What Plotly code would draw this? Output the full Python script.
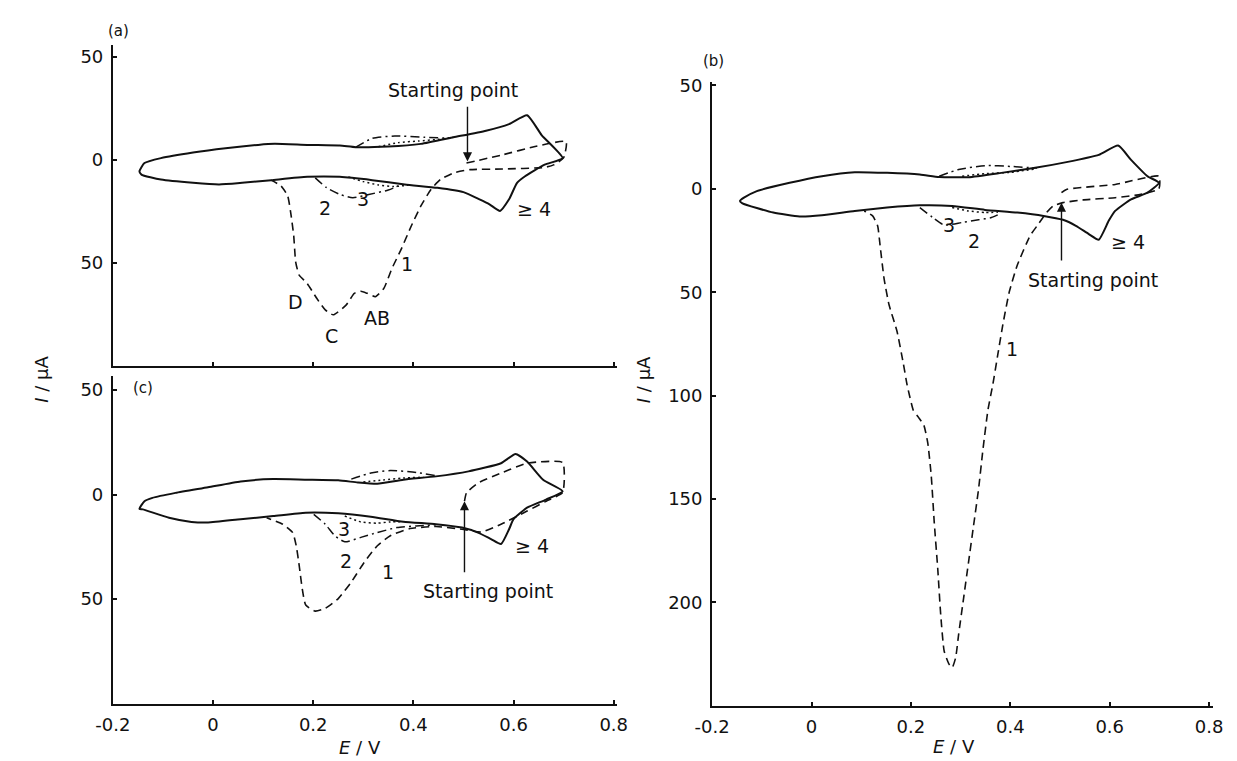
import plotly.graph_objects as go

# The page body has an 8 px default margin, so the figure is made 8 px smaller and
# every reference-pixel position is shifted by that offset.
REF_W, REF_H = 1237, 761
OFF = 8
W, H = REF_W - OFF, REF_H - OFF
BLACK = "#111111"


def fx(px):
    return (px - OFF) / W


def fy(py):
    return 1 - (py - OFF) / H


# ---------------- data (E / V, I / uA ; cathodic current positive = drawn downward) ----------
xticks = [-0.2, 0, 0.2, 0.4, 0.6, 0.8]
xticktext = ["-0.2", "0", "0.2", "0.4", "0.6", "0.8"]
yticks_ac = [-50, 0, 50]
yticktext_ac = ["50", "0", "50"]
yticks_b = [-50, 0, 50, 100, 150, 200]
yticktext_b = ["50", "0", "50", "100", "150", "200"]

# panel (a)
a_solid_E = [-0.147, -0.137, -0.104, -0.040, 0.025, 0.090, 0.123, 0.188, 0.253, 0.285, 0.350, 0.415,
             0.480, 0.545, 0.591, 0.627, 0.656, 0.698, 0.662, 0.623, 0.607, 0.591, 0.573, 0.552,
             0.532, 0.500, 0.448, 0.383, 0.318, 0.253, 0.188, 0.116, 0.058, 0.012, -0.040, -0.104,
             -0.143, -0.147]
a_solid_I = [5.6, 1.6, -0.8, -3.5, -5.6, -7.2, -7.7, -7.2, -6.9, -6.1, -6.4, -7.7,
             -10.9, -14.1, -17.3, -21.6, -12.0, -0.8, 2.4, 8.0, 11.2, 19.2, 24.8, 21.6,
             19.2, 15.7, 13.6, 12.0, 9.9, 8.3, 8.3, 9.9, 11.2, 12.0, 11.2, 9.6,
             7.2, 5.6]
a_c1_E = [0.506, 0.578, 0.643, 0.705, 0.700, 0.680, 0.662, 0.578, 0.513, 0.480, 0.454, 0.435, 0.415,
          0.396, 0.376, 0.357, 0.341, 0.324, 0.308, 0.295, 0.282, 0.266, 0.240, 0.224, 0.207,
          0.188, 0.172, 0.165, 0.161, 0.155, 0.149, 0.136, 0.116]
a_c1_I = [1.6, -2.4, -6.4, -8.8, -1.0, 2.5, 3.7, 4.5, 4.8, 6.4, 9.6, 14.4, 22.4,
          32.0, 43.2, 52.8, 62.4, 66.4, 64.8, 63.8, 64.8, 70.4, 75.2, 72.8, 67.2,
          60.0, 56.0, 49.6, 36.8, 25.6, 17.6, 12.8, 9.9]
a_c2_E = [0.204, 0.227, 0.253, 0.279, 0.311, 0.350, 0.376, None, 0.285, 0.318, 0.363, 0.422, 0.474]
a_c2_I = [8.8, 13.6, 16.8, 18.4, 16.8, 14.7, 12.0, None, -6.1, -10.4, -11.5, -10.9, -10.4]
a_c3_E = [0.270, 0.300, 0.330, 0.360, 0.390, None, 0.330, 0.370, 0.410, 0.450, 0.480]
a_c3_I = [8.3, 10.6, 12.2, 13.0, 12.3, None, -6.3, -8.3, -9.1, -9.9, -11.0]

# panel (c)
c_solid_E = [-0.147, -0.137, -0.121, -0.075, -0.010, 0.055, 0.120, 0.185, 0.250, 0.289, 0.328, 0.380,
             0.445, 0.510, 0.575, 0.604, 0.627, 0.659, 0.698, 0.665, 0.627, 0.600, 0.591, 0.575,
             0.555, 0.529, 0.497, 0.445, 0.380, 0.315, 0.250, 0.185, 0.120, 0.055, -0.010, -0.043,
             -0.088, -0.140, -0.147]
c_solid_I = [6.8, 3.2, 1.6, -0.8, -3.5, -6.3, -7.4, -7.1, -6.8, -5.8, -5.2, -7.1,
             -8.7, -11.1, -15.0, -19.4, -15.8, -7.1, -1.6, 2.4, 6.3, 11.8, 16.6, 23.7,
             21.3, 18.2, 15.8, 14.2, 13.0, 10.6, 9.0, 8.7, 10.3, 11.8, 13.4, 13.1,
             11.1, 7.1, 6.8]
c_c1_E = [0.502, 0.506, 0.529, 0.575, 0.627, 0.698, 0.698, 0.665, 0.627, 0.575, 0.536, 0.497, 0.445,
          0.393, 0.354, 0.328, 0.302, 0.276, 0.250, 0.224, 0.204, 0.185, 0.178, 0.172, 0.166,
          0.159, 0.139, 0.107]
c_c1_I = [3.2, -0.8, -5.5, -10.3, -15.0, -15.3, -1.0, 3.2, 7.9, 14.2, 17.9, 16.6, 15.3,
          16.3, 19.7, 24.5, 32.4, 41.9, 49.8, 54.5, 55.8, 52.9, 45.0, 34.0, 24.5,
          18.2, 14.2, 11.1]
c_c2_E = [0.201, 0.224, 0.243, 0.263, 0.295, 0.328, 0.367, 0.406, 0.445, None, 0.276, 0.315, 0.354, 0.406, 0.445]
c_c2_I = [9.5, 14.2, 19.7, 22.6, 20.5, 18.2, 15.8, 15.0, 14.5, None, -7.4, -10.3, -11.5, -10.6, -9.0]
c_c3_E = [0.263, 0.295, 0.328, 0.354, 0.380, None, 0.300, 0.340, 0.380, 0.420]
c_c3_I = [10.3, 13.1, 13.7, 13.1, 13.0, None, -6.0, -7.0, -7.9, -8.3]

# panel (b)
b_solid_E = [-0.144, -0.136, -0.110, -0.044, 0.021, 0.087, 0.152, 0.218, 0.257, 0.316, 0.382, 0.447,
             0.513, 0.578, 0.617, 0.643, 0.676, 0.699, 0.676, 0.643, 0.611, 0.598, 0.578, 0.558,
             0.532, 0.506, 0.467, 0.414, 0.349, 0.283, 0.218, 0.152, 0.087, 0.021, -0.024, -0.077,
             -0.139, -0.144]
b_solid_I = [5.9, 4.3, 1.1, -2.9, -6.1, -8.0, -7.7, -6.9, -5.7, -5.6, -7.7, -10.0,
             -12.9, -16.4, -20.9, -14.0, -6.1, -2.9, 1.9, 5.1, 10.7, 15.5, 24.6, 21.9,
             17.9, 15.0, 13.1, 11.5, 10.2, 8.3, 8.0, 9.1, 10.7, 12.8, 13.4, 11.5,
             7.0, 5.9]
b_c1_E = [0.503, 0.513, 0.611, 0.699, 0.699, 0.663, 0.611, 0.545, 0.506, 0.486, 0.473, 0.454, 0.440,
          0.414, 0.398, 0.385, 0.375, 0.365, 0.355, 0.345, 0.336, 0.326, 0.316, 0.306, 0.296,
          0.290, 0.283, 0.277, 0.267, 0.260, 0.254, 0.247, 0.241, 0.234, 0.226, 0.215, 0.205,
          0.198, 0.192, 0.185, 0.172, 0.156, 0.146, 0.138, 0.133, 0.123, 0.106]
b_c1_I = [1.9, 0.3, -2.1, -6.1, 0.0, 2.7, 4.3, 5.4, 6.7, 8.3, 11.5, 17.9, 22.6,
          37.0, 49.8, 65.7, 80.0, 94.4, 107.0, 126.0, 145.5, 163.0, 180.5, 198.0, 215.6,
          226.8, 231.6, 230.0, 223.6, 206.0, 183.7, 161.4, 139.0, 123.0, 114.3, 110.4, 107.2,
          100.8, 94.4, 84.8, 68.9, 56.1, 43.4, 27.4, 17.9, 13.1, 10.7]
b_c2_E = [0.218, 0.244, 0.267, 0.303, 0.336, 0.362, 0.380, None, 0.257, 0.296, 0.349, 0.401, 0.454]
b_c2_I = [9.1, 13.9, 17.5, 16.3, 15.0, 13.9, 12.0, None, -6.1, -9.3, -11.2, -10.8, -10.0]
b_c3_E = [0.283, 0.316, 0.349, 0.375, None, 0.303, 0.349, 0.401, 0.447]
b_c3_I = [9.1, 10.7, 11.5, 11.3, None, -6.1, -7.3, -8.0, -9.5]

# ---------------- figure ----------------
fig = go.Figure()

DASH = "8px,5px"
DASHDOT = "9px,4px,2px,4px"
DOT = "2px,3px"


def add(E, I, xa, ya, dash, width, smooth):
    fig.add_trace(go.Scatter(x=E, y=I, mode="lines", xaxis=xa, yaxis=ya,
                             line=dict(color=BLACK, width=width, dash=dash,
                                       shape="spline", smoothing=smooth),
                             connectgaps=False, hoverinfo="skip", showlegend=False))


for (xa, ya, sE, sI, e1, i1, e2, i2, e3, i3) in [
    ("x", "y", a_solid_E, a_solid_I, a_c1_E, a_c1_I, a_c2_E, a_c2_I, a_c3_E, a_c3_I),
    ("x2", "y2", c_solid_E, c_solid_I, c_c1_E, c_c1_I, c_c2_E, c_c2_I, c_c3_E, c_c3_I),
    ("x3", "y3", b_solid_E, b_solid_I, b_c1_E, b_c1_I, b_c2_E, b_c2_I, b_c3_E, b_c3_I),
]:
    add(sE, sI, xa, ya, "solid", 2.0, 0.5)
    add(e1, i1, xa, ya, DASH, 1.6, 0.5)
    add(e2, i2, xa, ya, DASHDOT, 1.5, 0.6)
    add(e3, i3, xa, ya, DOT, 1.5, 0.6)

TICKFONT = dict(family="DejaVu Sans", size=18, color=BLACK)
common = dict(showline=True, linecolor=BLACK, linewidth=2, ticks="inside", ticklen=4,
              tickwidth=1.5, tickcolor=BLACK, showgrid=False, zeroline=False,
              tickfont=TICKFONT, fixedrange=True, ticklabelstandoff=4)

fig.update_layout(
    width=W, height=H, autosize=False,
    margin=dict(l=0, r=0, t=0, b=0),
    paper_bgcolor="white", plot_bgcolor="white",
    showlegend=False,
    xaxis=dict(domain=[fx(97), fx(613)], range=[-0.2, 0.806], anchor="y",
               tickvals=xticks, ticktext=xticktext, showticklabels=False, **common),
    yaxis=dict(domain=[fy(361.5), fy(37)], range=[99.9, -55.8], anchor="x",
               tickvals=yticks_ac, ticktext=yticktext_ac, **common),
    xaxis2=dict(domain=[fx(97), fx(613)], range=[-0.2, 0.806], anchor="y2",
                tickvals=xticks, ticktext=xticktext, **common),
    yaxis2=dict(domain=[fy(703), fy(372)], range=[100.1, -56.7], anchor="x2",
                tickvals=yticks_ac, ticktext=yticktext_ac, **common),
    xaxis3=dict(domain=[fx(710.7), fx(1224)], range=[-0.2, 0.8085], anchor="y3",
                tickvals=xticks, ticktext=xticktext, **common),
    yaxis3=dict(domain=[fy(705), fy(75)], range=[249.9, -51.5], anchor="x3",
                tickvals=yticks_b, ticktext=yticktext_b, **common),
)

ann = []


def label(text, x, y, xr, yr, size=19):
    ann.append(dict(text=text, x=x, y=y, xref=xr, yref=yr, showarrow=False,
                    font=dict(family="DejaVu Sans", size=size, color=BLACK),
                    xanchor="center", yanchor="middle"))


def arrow(x, y0, y1, xr, yr):
    ann.append(dict(text="", x=x, y=y1, ax=x, ay=y0, xref=xr, yref=yr, axref=xr, ayref=yr,
                    showarrow=True, arrowhead=2, arrowsize=1.3, arrowwidth=1.4,
                    arrowcolor=BLACK, standoff=0, startstandoff=0))


# panel (a)
label("2", 0.224, 23.2, "x", "y")
label("3", 0.300, 19.0, "x", "y")
label("1", 0.387, 50.4, "x", "y")
label("D", 0.165, 68.8, "x", "y")
label("C", 0.237, 85.6, "x", "y")
label("AB", 0.328, 76.8, "x", "y")
label("\u2265 4", 0.640, 24.0, "x", "y")
label("Starting point", 0.479, -33.6, "x", "y")
arrow(0.508, -26.4, 0.8, "x", "y")
# panel (c)
label("3", 0.261, 16.6, "x2", "y2")
label("2", 0.266, 31.6, "x2", "y2")
label("1", 0.350, 37.0, "x2", "y2")
label("\u2265 4", 0.636, 24.5, "x2", "y2")
label("Starting point", 0.549, 46.3, "x2", "y2")
arrow(0.502, 37.9, 3.2, "x2", "y2")
# panel (b)
label("3", 0.277, 17.5, "x3", "y3")
label("2", 0.326, 25.4, "x3", "y3")
label("1", 0.403, 77.7, "x3", "y3")
label("\u2265 4", 0.637, 25.8, "x3", "y3")
label("Starting point", 0.566, 44.2, "x3", "y3")
arrow(0.503, 35.4, 6.7, "x3", "y3")

# panel letters & axis titles (paper coords, reference pixels)
label("(a)", fx(103), fy(23), "paper", "paper", 15)
label("(c)", fx(128), fy(384), "paper", "paper", 15)
label("(b)", fx(712), fy(53), "paper", "paper", 15)
label("<i>E</i> / V", fx(350), fy(747), "paper", "paper", 18)
label("<i>E</i> / V", fx(958), fy(746), "paper", "paper", 18)
for xp, yp in [(23, 375), (640, 376)]:
    ann.append(dict(text="<i>I</i> / \u00b5A", x=fx(xp), y=fy(yp), xref="paper", yref="paper",
                    showarrow=False, textangle=-90,
                    font=dict(family="DejaVu Sans", size=18, color=BLACK),
                    xanchor="center", yanchor="middle"))

fig.update_layout(annotations=ann)
fig.write_html("out.html")
